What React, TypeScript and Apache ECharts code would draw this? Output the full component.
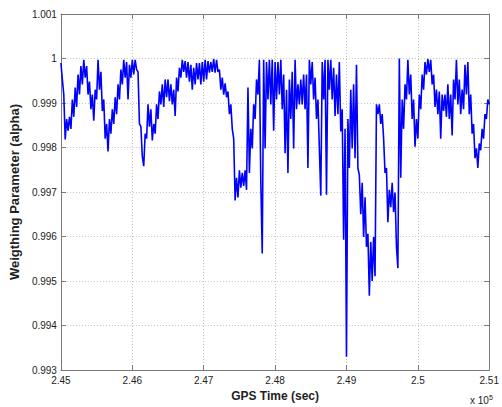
import React, { useEffect, useRef } from "react";
import * as echarts from "echarts";

// Sampling grid of the trace (GPS time in seconds)
const TIME_START = 245000;
const TIME_STEP = 20;

// Weighting parameter alpha (one value per sample)
const ALPHA: number[] = [
  0.9999, 0.99953, 0.99919, 0.99818, 0.99864, 0.99838, 0.99869, 0.99842, 0.99908, 0.99869,
  0.99935, 0.99891, 0.99964, 0.99919, 0.99983, 0.99942, 0.99997, 0.99957, 0.99983, 0.99919,
  0.99948, 0.99886, 0.99919, 0.9986, 0.9993, 0.99908, 0.99997, 0.9993, 0.9997, 0.99882,
  0.99908, 0.9982, 0.99853, 0.99791, 0.99864, 0.99831, 0.99886, 0.99853, 0.99913, 0.99875,
  0.99942, 0.99908, 0.99975, 0.99942, 0.99997, 0.99957, 0.99992, 0.99908, 0.99986, 0.99957,
  0.99997, 0.99964, 0.99997, 0.99975, 0.9997, 0.99853, 0.99847, 0.9978, 0.99758, 0.99831,
  0.9982, 0.99897, 0.99847, 0.99886, 0.99816, 0.99853, 0.99831, 0.99897, 0.99864, 0.99926,
  0.99897, 0.99942, 0.99891, 0.99953, 0.99913, 0.99953, 0.99904, 0.99942, 0.99897, 0.9993,
  0.99871, 0.99957, 0.99926, 0.99979, 0.99957, 0.99997, 0.9997, 0.99994, 0.99957, 0.99992,
  0.99948, 0.99986, 0.9993, 0.99979, 0.99942, 0.9999, 0.99953, 0.9999, 0.99942, 0.99992,
  0.99948, 0.99997, 0.99953, 0.99994, 0.99968, 0.99992, 0.9997, 0.99999, 0.99968, 0.99997,
  0.9997, 0.99975, 0.9993, 0.99957, 0.99919, 0.99944, 0.99913, 0.99926, 0.99875, 0.99897,
  0.99842, 0.9982, 0.99681, 0.99732, 0.99688, 0.99749, 0.9971, 0.99743, 0.99714, 0.99749,
  0.99705, 0.99935, 0.99743, 0.99842, 0.99798, 0.99897, 0.99864, 0.99953, 0.99919, 0.99997,
  0.99721, 0.99562, 0.99997, 0.99798, 0.99992, 0.99908, 0.99997, 0.99897, 0.99997, 0.99838,
  0.99992, 0.99908, 0.99992, 0.99919, 0.99997, 0.99886, 0.99964, 0.99787, 0.9993, 0.99743,
  0.99953, 0.99864, 0.9997, 0.99798, 0.99997, 0.99886, 0.99942, 0.99897, 0.99953, 0.99897,
  0.99964, 0.99886, 0.99964, 0.99754, 0.99997, 0.99942, 0.99992, 0.99908, 0.99957, 0.99864,
  0.99908, 0.99798, 0.99692, 0.99992, 0.99908, 0.99997, 0.99694, 0.99997, 0.9993, 0.99997,
  0.99908, 0.99979, 0.99871, 0.99964, 0.99875, 0.99992, 0.99836, 0.99886, 0.99593, 0.99842,
  0.9933, 0.99864, 0.99754, 0.9993, 0.99798, 0.99942, 0.99776, 0.99986, 0.99754, 0.99738,
  0.9965, 0.99721, 0.99599, 0.99688, 0.99577, 0.99606, 0.99467, 0.99588, 0.995, 0.99599,
  0.99511, 0.99897, 0.99875, 0.99897, 0.99853, 0.99875, 0.9982, 0.99743, 0.99754, 0.99632,
  0.99705, 0.99666, 0.99721, 0.99655, 0.99699, 0.99577, 0.99529, 1.0, 0.99732, 0.99908,
  0.99842, 0.99942, 0.99908, 0.99997, 0.99919, 0.99964, 0.99864, 0.99908, 0.99802, 0.99864,
  0.9982, 0.99919, 0.99886, 0.99964, 0.9993, 0.99992, 0.99964, 0.99999, 0.9997, 0.99997,
  0.99942, 0.99964, 0.99891, 0.9993, 0.99875, 0.99926, 0.9982, 0.99919, 0.99882, 0.99919,
  0.99869, 0.99942, 0.99864, 0.99919, 0.99827, 0.99953, 0.99908, 0.99997, 0.99897, 0.99953,
  0.99875, 0.9993, 0.99886, 0.99986, 0.99919, 0.99992, 0.99875, 0.99919, 0.99831, 0.99853,
  0.99776, 0.99798, 0.99754, 0.99809, 0.99794, 0.99842, 0.9982, 0.99875, 0.99864, 0.99908,
  0.99897,
];

const X_MIN = 245000;
const X_MAX = 251000;
const X_INTERVAL = 1000;
const Y_MIN = 0.993;
const Y_MAX = 1.001;
const Y_INTERVAL = 0.001;

const X_TITLE = "GPS Time (sec)";
const Y_TITLE = "Weigthing Parameter (alpha)";

const FONT = "Liberation Sans, Arial, Helvetica, sans-serif";

export default function App() {
  const ref = useRef<HTMLDivElement>(null);

  useEffect(() => {
    if (!ref.current) return;
    const chart = echarts.init(ref.current, null, { renderer: "svg" });
    const data = ALPHA.map((a, i) => [TIME_START + i * TIME_STEP, a]);
    const boxLine = { show: true, lineStyle: { color: "#7a7a7a", width: 1 } };
    const tick = { show: true, inside: true, length: 5, lineStyle: { color: "#7a7a7a" } };
    const grid = { show: true, lineStyle: { color: "#c4c4c4", type: [1, 2], width: 1 } };
    chart.setOption({
      animation: false,
      backgroundColor: "#ffffff",
      grid: { left: 56, right: 10, top: 14, bottom: 32, containLabel: false },
      xAxis: [
        {
          type: "value",
          min: X_MIN,
          max: X_MAX,
          interval: X_INTERVAL,
          axisLine: boxLine,
          axisTick: tick,
          splitLine: grid,
          axisLabel: {
            margin: 5,
            fontSize: 10,
            color: "#222",
            fontFamily: FONT,
            formatter: (v: number) => String(parseFloat((v / 1e5).toFixed(2))),
          },
          name: X_TITLE,
          nameLocation: "middle",
          nameGap: 19,
          nameTextStyle: { fontSize: 12, fontWeight: "bold", color: "#222", fontFamily: FONT },
        },
        {
          type: "value",
          position: "top",
          min: X_MIN,
          max: X_MAX,
          interval: X_INTERVAL,
          axisLine: boxLine,
          axisTick: tick,
          axisLabel: { show: false },
          splitLine: { show: false },
        },
      ],
      yAxis: [
        {
          type: "value",
          min: Y_MIN,
          max: Y_MAX,
          interval: Y_INTERVAL,
          axisLine: boxLine,
          axisTick: tick,
          splitLine: grid,
          axisLabel: {
            margin: 4,
            fontSize: 10,
            color: "#222",
            fontFamily: FONT,
            formatter: (v: number) => String(parseFloat(v.toFixed(3))),
          },
          name: Y_TITLE,
          nameLocation: "middle",
          nameGap: 34,
          nameTextStyle: { fontSize: 13, fontWeight: "bold", color: "#222", fontFamily: FONT },
        },
        {
          type: "value",
          position: "right",
          min: Y_MIN,
          max: Y_MAX,
          interval: Y_INTERVAL,
          axisLine: boxLine,
          axisTick: tick,
          axisLabel: { show: false },
          splitLine: { show: false },
        },
      ],
      graphic: [
        {
          type: "text",
          left: 470,
          top: 394,
          style: {
            text: "x 10{sup|5}",
            fontSize: 10,
            fill: "#222",
            fontFamily: FONT,
            rich: { sup: { fontSize: 7, verticalAlign: "top", padding: [0, 0, 6, 0], fontFamily: FONT } },
          },
        },
      ],
      series: [
        {
          type: "line",
          xAxisIndex: 0,
          yAxisIndex: 0,
          data,
          showSymbol: false,
          symbol: "none",
          lineStyle: { color: "#0000ff", width: 1.6 },
          silent: true,
        },
      ],
    });
    return () => chart.dispose();
  }, []);

  return (
    <div
      ref={ref}
      style={{ position: "fixed", left: 0, top: 0, width: 502, height: 407, background: "#fff" }}
    />
  );
}
